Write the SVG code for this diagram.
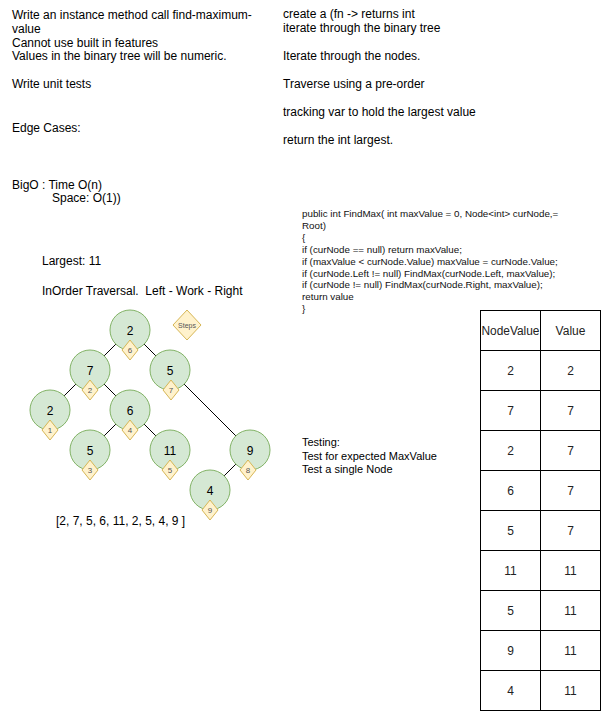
<svg xmlns="http://www.w3.org/2000/svg" width="601" height="711" viewBox="0 0 601 711">
<style>
text{font-family:"Liberation Sans",Arial,sans-serif;fill:#000}
.t{font-size:12px}
.code{font-size:9.8px}
.code text{fill:#111}
.test{font-size:11px}
.node circle{fill:#d5e8d4;stroke:#82b366;stroke-width:1}
.node .v{font-size:12px;text-anchor:middle}
.node polygon,.steps polygon{fill:#fff2cc;stroke:#d6b656;stroke-width:1}
.node .s{font-size:8px;text-anchor:middle;fill:#555}
.steps text{font-size:7px;text-anchor:middle;fill:#555}
.edges line{stroke:#000;stroke-width:1}
.tbl rect,.tbl line{fill:none;stroke:#000;stroke-width:1}
.tbl text{font-size:12px;text-anchor:middle;fill:#222}
</style>
<rect width="601" height="711" fill="#fff"/>
<g id="notes-left" class="t">
<text x="12" y="19">Write an instance method call find-maximum-</text>
<text x="12" y="32.8">value</text>
<text x="12" y="46.6">Cannot use built in features</text>
<text x="12" y="60.4">Values in the binary tree will be numeric.</text>
<text x="12" y="87.5">Write unit tests</text>
<text x="12" y="132">Edge Cases:</text>
<text x="12" y="189">BigO : Time O(n)</text>
<text x="52" y="201.5">Space: O(1))</text>
</g>
<g id="notes-right" class="t">
<text x="283" y="18">create a (fn -&gt; returns int</text>
<text x="283" y="31.8">iterate through the binary tree</text>
<text x="283" y="60">Iterate through the nodes.</text>
<text x="283" y="88">Traverse using a pre-order</text>
<text x="283" y="116">tracking var to hold the largest value</text>
<text x="283" y="144">return the int largest.</text>
</g>
<g id="code" class="code">
<text x="302" y="217">public int FindMax( int maxValue = 0, Node&lt;int&gt; curNode,=</text>
<text x="302" y="228.9">Root)</text>
<text x="302" y="240.8">{</text>
<text x="302" y="252.7">if (curNode == null) return maxValue;</text>
<text x="302" y="264.6">if (maxValue &lt; curNode.Value) maxValue = curNode.Value;</text>
<text x="302" y="276.5">if (curNode.Left != null) FindMax(curNode.Left, maxValue);</text>
<text x="302" y="288.4">if (curNode != null) FindMax(curNode.Right, maxValue);</text>
<text x="302" y="300.3">return value</text>
<text x="302" y="312.2">}</text>
</g>
<g id="largest" class="t"><text x="42" y="265">Largest: 11</text></g>
<g id="inorder" class="t"><text x="42" y="295" xml:space="preserve" style="white-space:pre">InOrder Traversal.  Left - Work - Right</text></g>
<g id="result" class="t"><text x="56" y="525">[2, 7, 5, 6, 11, 2, 5, 4, 9 ]</text></g>
<g id="testing" class="test">
<text x="302" y="446">Testing:</text>
<text x="302" y="459.5">Test for expected MaxValue</text>
<text x="302" y="473">Test a single Node</text>
</g>
<g class="edges" id="connectors">
<line x1="115.9" y1="344.1" x2="104.1" y2="355.9"/>
<line x1="144.1" y1="344.1" x2="155.9" y2="355.9"/>
<line x1="75.9" y1="384.1" x2="64.1" y2="395.9"/>
<line x1="104.1" y1="384.1" x2="115.9" y2="395.9"/>
<line x1="184.1" y1="384.1" x2="235.9" y2="435.9"/>
<line x1="115.9" y1="424.1" x2="104.1" y2="435.9"/>
<line x1="144.1" y1="424.1" x2="155.9" y2="435.9"/>
<line x1="235.9" y1="464.1" x2="224.1" y2="475.9"/>
</g>
<g id="n-root" class="node"><circle cx="130" cy="330" r="20"/><text class="v" x="130" y="334.5">2</text><polygon points="130,340 138,350 130,360 122,350"/><text class="s" x="130" y="353">6</text></g>
<g id="n-7" class="node"><circle cx="90" cy="370" r="20"/><text class="v" x="90" y="374.5">7</text><polygon points="90,380 98,390 90,400 82,390"/><text class="s" x="90" y="393">2</text></g>
<g id="n-5a" class="node"><circle cx="170" cy="370" r="20"/><text class="v" x="170" y="374.5">5</text><polygon points="171,380 179,390 171,400 163,390"/><text class="s" x="171" y="393">7</text></g>
<g id="n-2b" class="node"><circle cx="50" cy="410" r="20"/><text class="v" x="50" y="414.5">2</text><polygon points="50,420 58,430 50,440 42,430"/><text class="s" x="50" y="433">1</text></g>
<g id="n-6" class="node"><circle cx="130" cy="410" r="20"/><text class="v" x="130" y="414.5">6</text><polygon points="130,420 138,430 130,440 122,430"/><text class="s" x="130" y="433">4</text></g>
<g id="n-5b" class="node"><circle cx="90" cy="450" r="20"/><text class="v" x="90" y="454.5">5</text><polygon points="90,460 98,470 90,480 82,470"/><text class="s" x="90" y="473">3</text></g>
<g id="n-11" class="node"><circle cx="170" cy="450" r="20"/><text class="v" x="170" y="454.5">11</text><polygon points="170,460 178,470 170,480 162,470"/><text class="s" x="170" y="473">5</text></g>
<g id="n-9" class="node"><circle cx="250" cy="450" r="20"/><text class="v" x="250" y="454.5">9</text><polygon points="248,460 256,470 248,480 240,470"/><text class="s" x="248" y="473">8</text></g>
<g id="n-4" class="node"><circle cx="210" cy="490" r="20"/><text class="v" x="210" y="494.5">4</text><polygon points="210,500 218,510 210,520 202,510"/><text class="s" x="210" y="513">9</text></g>
<g id="steps" class="steps"><polygon points="187,310 201,325 187,340 173,325"/><text x="187" y="327.5">Steps</text></g>
<g id="table" class="tbl">
<rect x="480.5" y="310.5" width="120" height="400"/>
<line x1="540.5" y1="310.5" x2="540.5" y2="710.5"/>
<line x1="480.5" y1="350.5" x2="600.5" y2="350.5"/>
<line x1="480.5" y1="390.5" x2="600.5" y2="390.5"/>
<line x1="480.5" y1="430.5" x2="600.5" y2="430.5"/>
<line x1="480.5" y1="470.5" x2="600.5" y2="470.5"/>
<line x1="480.5" y1="510.5" x2="600.5" y2="510.5"/>
<line x1="480.5" y1="550.5" x2="600.5" y2="550.5"/>
<line x1="480.5" y1="590.5" x2="600.5" y2="590.5"/>
<line x1="480.5" y1="630.5" x2="600.5" y2="630.5"/>
<line x1="480.5" y1="670.5" x2="600.5" y2="670.5"/>
<text x="510.5" y="334.5" textLength="58" lengthAdjust="spacingAndGlyphs">NodeValue</text><text x="570.5" y="334.5">Value</text>
<text x="510.5" y="374.5">2</text><text x="570.5" y="374.5">2</text>
<text x="510.5" y="414.5">7</text><text x="570.5" y="414.5">7</text>
<text x="510.5" y="454.5">2</text><text x="570.5" y="454.5">7</text>
<text x="510.5" y="494.5">6</text><text x="570.5" y="494.5">7</text>
<text x="510.5" y="534.5">5</text><text x="570.5" y="534.5">7</text>
<text x="510.5" y="574.5">11</text><text x="570.5" y="574.5">11</text>
<text x="510.5" y="614.5">5</text><text x="570.5" y="614.5">11</text>
<text x="510.5" y="654.5">9</text><text x="570.5" y="654.5">11</text>
<text x="510.5" y="694.5">4</text><text x="570.5" y="694.5">11</text>
</g>
</svg>
